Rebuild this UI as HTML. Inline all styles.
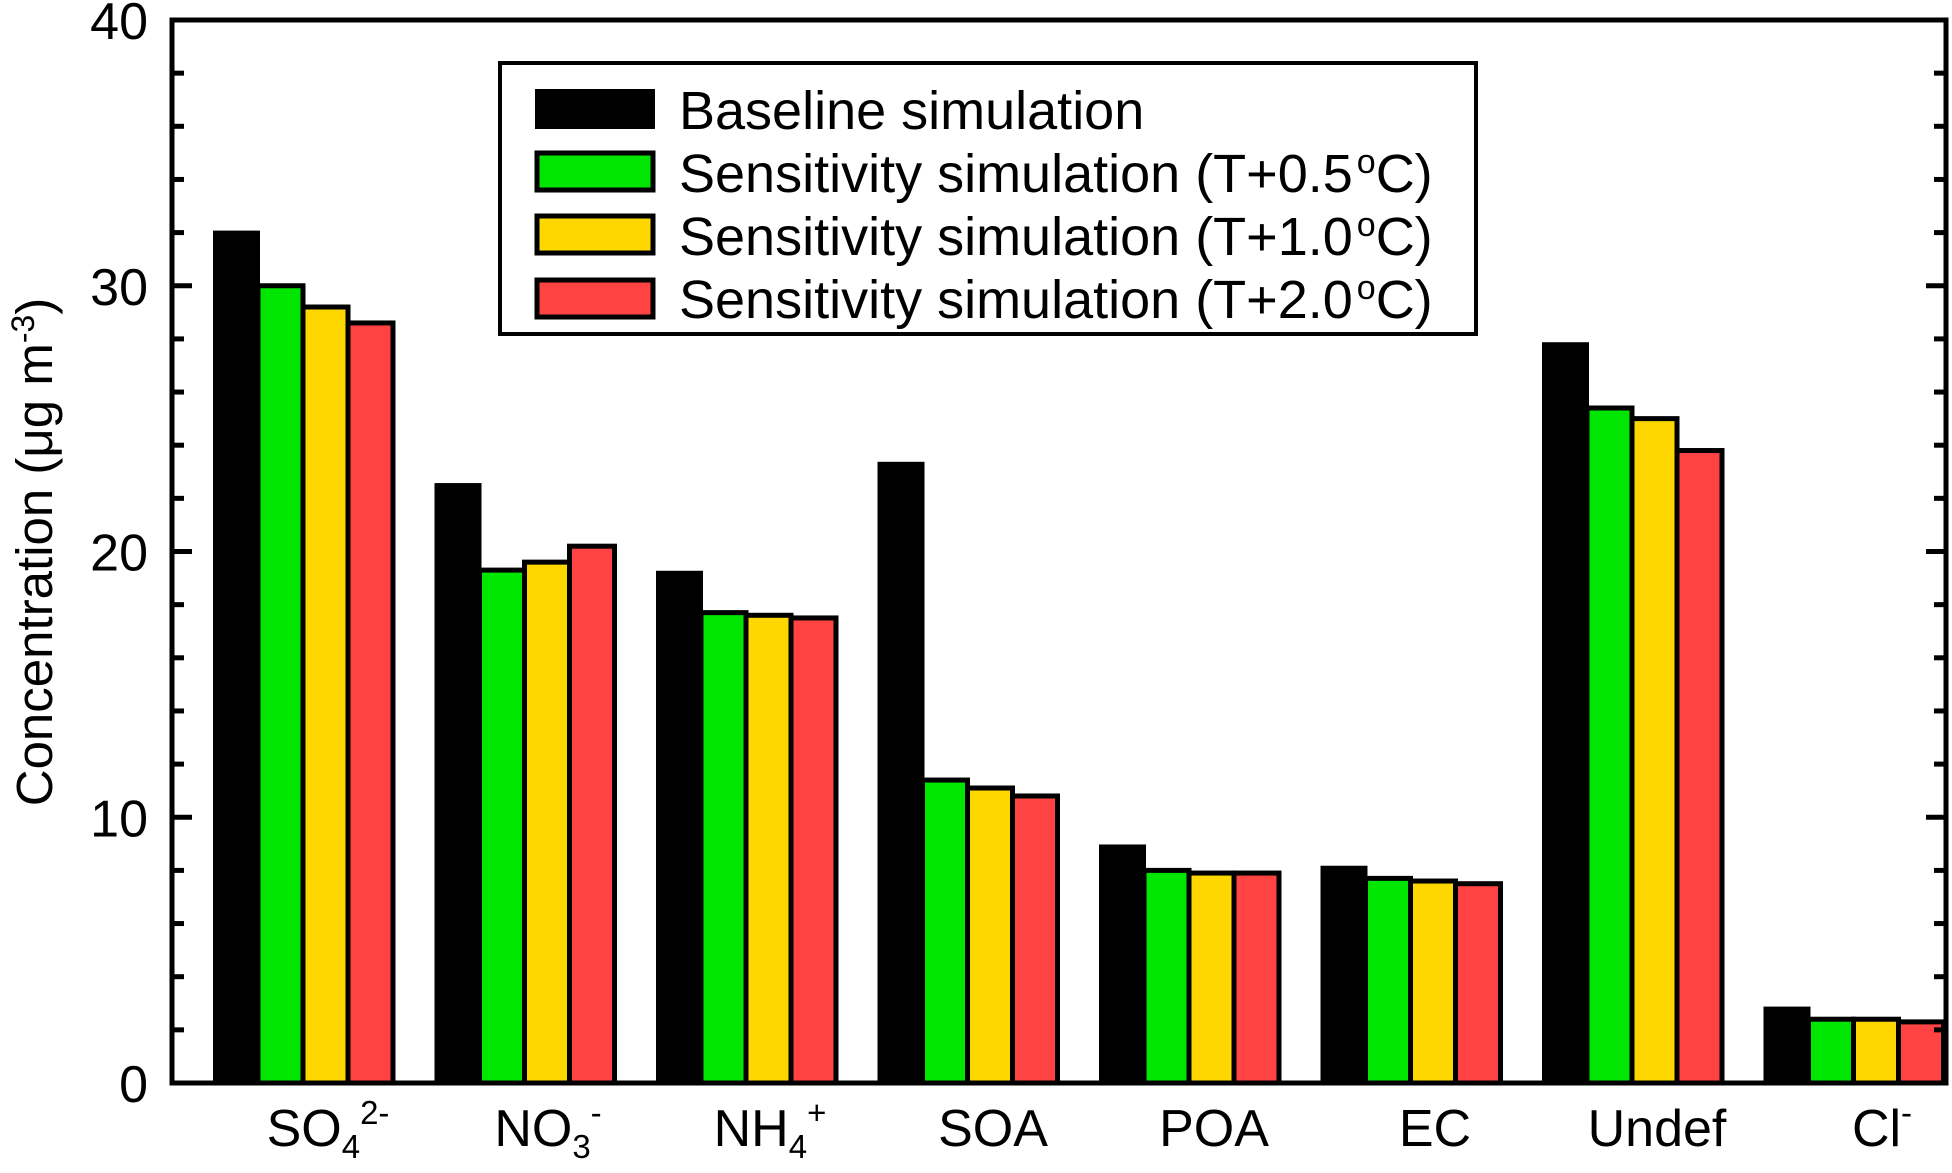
<!DOCTYPE html>
<html><head><meta charset="utf-8"><style>body{margin:0;background:#fff}svg{font-family:"Liberation Sans",Arial,sans-serif}</style></head>
<body>
<svg width="1952" height="1168" viewBox="0 0 1952 1168">
<g id="bars"></g>
<g id="axes"></g>
<text transform="translate(52,552) rotate(-90)" text-anchor="middle" font-size="51">Concentration (μg m<tspan dy="-18" font-size="32">-3</tspan><tspan dy="18">)</tspan></text>
<g>
<rect x="500" y="63" width="976" height="271" fill="#fff" stroke="#000" stroke-width="4"/>
<rect x="535" y="89" width="120" height="40" fill="#000"/>
<rect x="537" y="153" width="116" height="37" fill="#00e600" stroke="#000" stroke-width="5"/>
<rect x="537" y="216" width="116" height="37" fill="#ffd700" stroke="#000" stroke-width="5"/>
<rect x="537" y="280" width="116" height="37" fill="#ff4242" stroke="#000" stroke-width="5"/>
<g font-size="54">
<text x="679" y="129">Baseline simulation</text>
<text x="679" y="192">Sensitivity simulation (T+0.5<tspan dx="4" dy="-19" font-size="34">o</tspan><tspan dy="19">C)</tspan></text>
<text x="679" y="255">Sensitivity simulation (T+1.0<tspan dx="4" dy="-19" font-size="34">o</tspan><tspan dy="19">C)</tspan></text>
<text x="679" y="318">Sensitivity simulation (T+2.0<tspan dx="4" dy="-19" font-size="34">o</tspan><tspan dy="19">C)</tspan></text>
</g></g>
<g font-size="52" text-anchor="middle">
<text x="328" y="1146">SO<tspan dy="12" font-size="33">4</tspan><tspan dy="-34" font-size="33">2-</tspan></text>
<text x="548" y="1146">NO<tspan dy="12" font-size="33">3</tspan><tspan dy="-34" font-size="33">-</tspan></text>
<text x="770" y="1146">NH<tspan dy="12" font-size="33">4</tspan><tspan dy="-34" font-size="33">+</tspan></text>
<text x="993" y="1146">SOA</text>
<text x="1214" y="1146">POA</text>
<text x="1435" y="1146">EC</text>
<text x="1657" y="1146">Undef</text>
<text x="1882" y="1146">Cl<tspan dy="-22" font-size="33">-</tspan></text>
</g>
</svg>
<script>
const categories=["SO4","NO3","NH4","SOA","POA","EC","Undef","Cl"];
const baseline=[32,22.5,19.2,23.3,8.9,8.1,27.8,2.8];
const t05=[30,19.3,17.7,11.4,8.0,7.7,25.4,2.4];
const t10=[29.2,19.6,17.6,11.1,7.9,7.6,25.0,2.4];
const t20=[28.6,20.2,17.5,10.8,7.9,7.5,23.8,2.3];
const yTicks=[0,10,20,30,40];
const NS="http://www.w3.org/2000/svg";
const L=172,R=1946,T=20,B=1083,ymax=40;
const y=v=>B-(v/ymax)*(B-T);
const gx=i=>215+i*221.5;
const bw=45;
const series=[{d:baseline,c:"#000",s:false,n:"baseline"},{d:t05,c:"#00e600",s:true,n:"t05"},{d:t10,c:"#ffd700",s:true,n:"t10"},{d:t20,c:"#ff4242",s:true,n:"t20"}];
const bars=document.getElementById("bars");
categories.forEach((cat,i)=>{series.forEach((s,j)=>{
 const r=document.createElementNS(NS,"rect");
 
 
 const x=gx(i)+j*bw, top=y(s.d[i]);
 if(s.s){r.setAttribute("x",x-2);r.setAttribute("y",top);r.setAttribute("width",bw);r.setAttribute("height",B-top);r.setAttribute("stroke","#000");r.setAttribute("stroke-width",5);}
 else{r.setAttribute("x",x-2);r.setAttribute("y",top-2);r.setAttribute("width",bw+2);r.setAttribute("height",B-top+2);}
 r.setAttribute("fill",s.c);bars.appendChild(r);});});
const ax=document.getElementById("axes");
function line(x1,y1,x2,y2,w){const l=document.createElementNS(NS,"line");l.setAttribute("x1",x1);l.setAttribute("y1",y1);l.setAttribute("x2",x2);l.setAttribute("y2",y2);l.setAttribute("stroke","#000");l.setAttribute("stroke-width",w);ax.appendChild(l);return l;}
const f=document.createElementNS(NS,"rect");


f.setAttribute("x",L);f.setAttribute("y",T);f.setAttribute("width",R-L);f.setAttribute("height",B-T);f.setAttribute("fill","none");f.setAttribute("stroke","#000");f.setAttribute("stroke-width",5);ax.appendChild(f);
for(let v=0;v<=ymax;v+=2){const len=v%10===0?20:12;const yy=y(v);line(L,yy,L+len,yy,5);line(R-len,yy,R,yy,5);}
yTicks.forEach(v=>{const t=document.createElementNS(NS,"text");


t.setAttribute("x",148);t.setAttribute("y",y(v)+19);t.setAttribute("text-anchor","end");t.setAttribute("font-size","52");t.textContent=v;ax.appendChild(t);});
</script>
</body></html>
